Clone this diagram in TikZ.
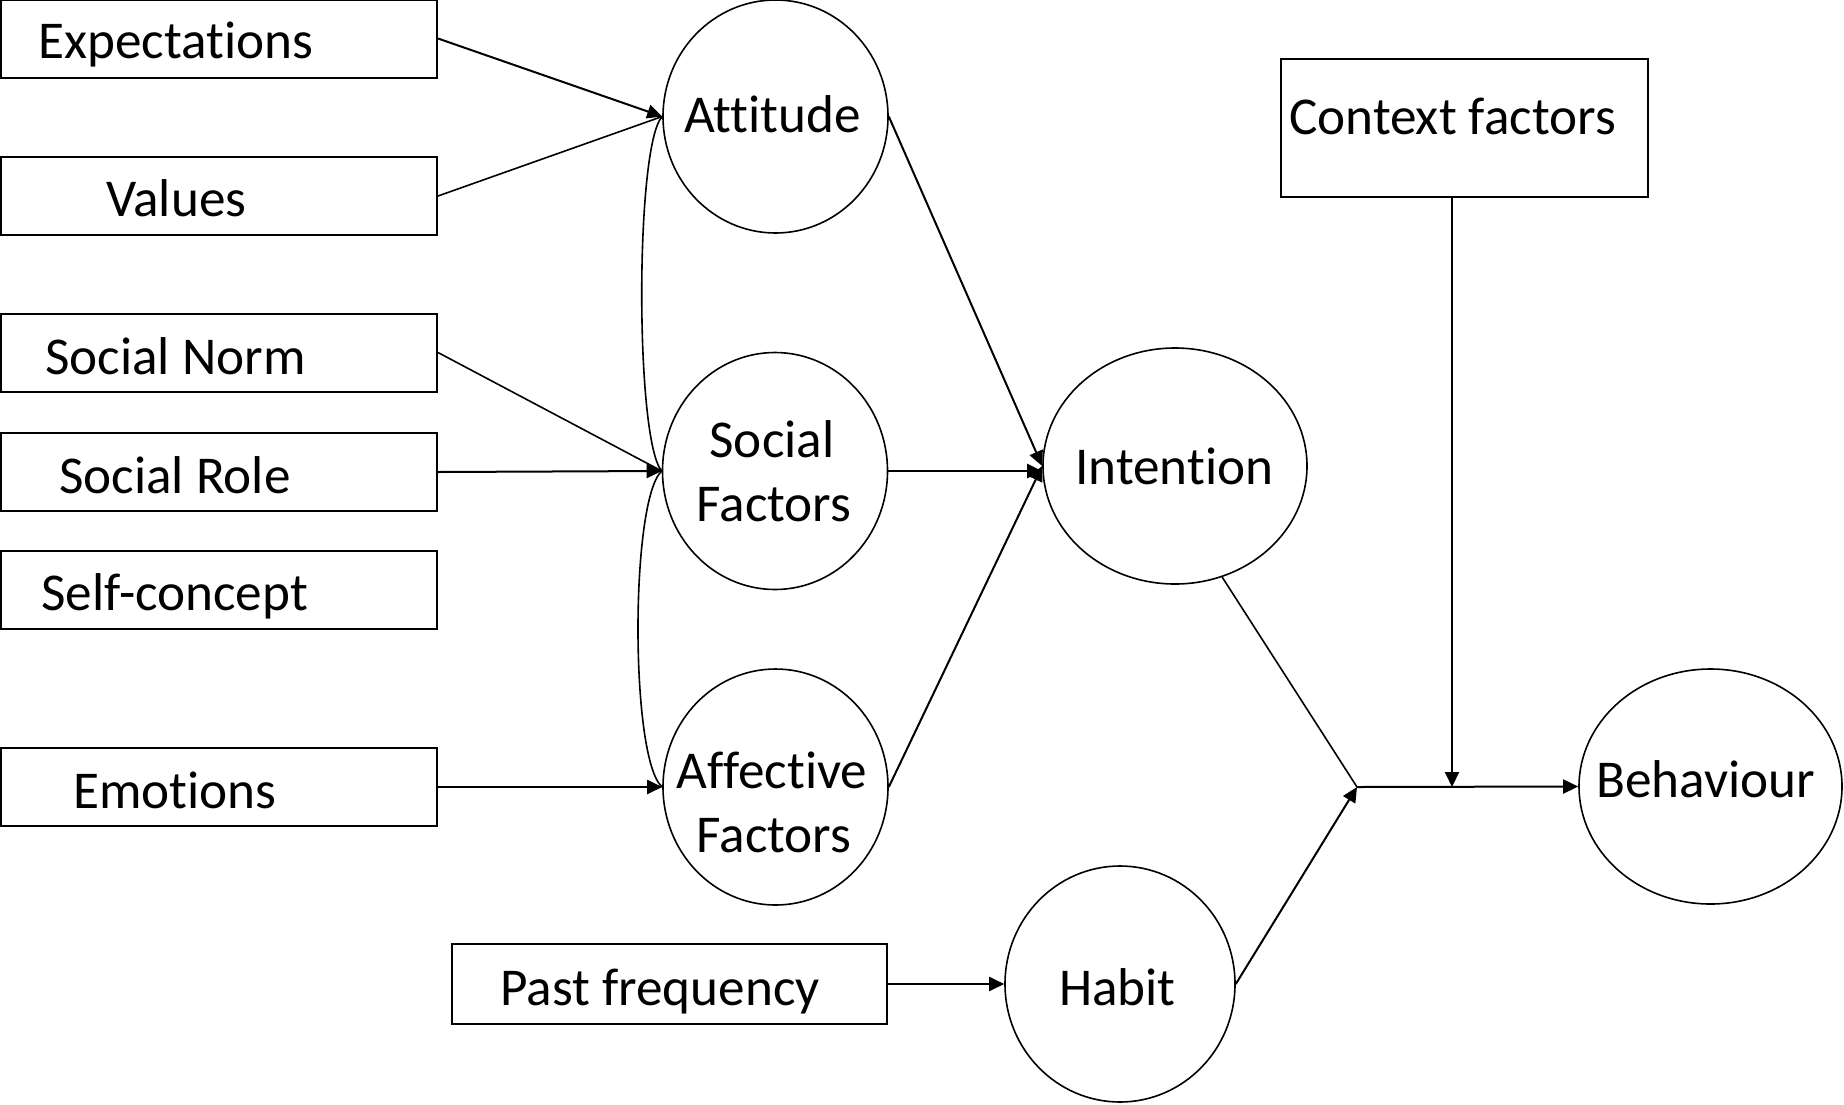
\documentclass[tikz,border=0pt]{standalone}
\usepackage{fontspec}
\setmainfont{Carlito}[Ligatures={NoCommon,NoRequired,NoContextual}]
\usetikzlibrary{arrows.meta,shapes.geometric}
\begin{document}
\begin{tikzpicture}[x=1pt,y=-1pt,
  box/.style={draw,line width=2pt,rectangle,inner sep=0pt,minimum width=436pt,minimum height=78pt},
  oval/.style={draw,line width=1.6pt,ellipse,inner sep=0pt},
  txt/.style={inner sep=0pt,font=\fontsize{53.2}{64}\selectfont},
  ln/.style={line width=1.6pt},
  arr/.style={line width=2pt,-{Triangle[length=15pt,width=14pt]}}
]
\useasboundingbox (0,0) rectangle (1844,1104);

% boxes
\node[box] (exp)  at (219,38.5) {};
\node[box] (val)  at (219,196) {};
\node[box] (norm) at (219,352.5) {};
\node[box] (role) at (219,472) {};
\node[box] (self) at (219,589.5) {};
\node[box] (emo)  at (219,787) {};
\node[box,minimum width=435pt,minimum height=80pt] (past) at (669.5,984) {};
\node[box,minimum width=367pt,minimum height=138pt] (ctx) at (1464.5,128) {};

\node[txt,anchor=base west] (expT)  at (38,58)  {Expectations};
\node[txt,anchor=base west] (valT)  at (106,216) {Values};
\node[txt,anchor=base west] (normT) at (45,374) {Social Norm};
\node[txt,anchor=base west] (roleT) at (59,493) {Social Role};
\node[txt,anchor=base west] (selfT) at (41,610) {Self-concept};
\node[txt,anchor=base west] (emoT)  at (73,808) {Emotions};
\node[txt,anchor=base west] (pastT) at (500,1005) {Past frequency};
\node[txt,anchor=base west] (ctxT)  at (1289,134) {Context factors};

% ellipses
\node[oval,minimum width=225pt,minimum height=233pt] (att) at (775.5,116.5) {};
\node[oval,minimum width=225pt,minimum height=237pt] (soc) at (775,471) {};
\node[oval,minimum width=225pt,minimum height=236pt] (aff) at (775.5,787) {};
\node[oval,minimum width=264pt,minimum height=236pt] (int) at (1175,466) {};
\node[oval,minimum width=230pt,minimum height=236pt] (hab) at (1120,984) {};
\node[oval,minimum width=263pt,minimum height=235pt] (beh) at (1710.5,786.5) {};

\node[txt,anchor=base west] (attT) at (684,132) {Attitude};
\node[txt,anchor=base] (socT1) at (772,457) {Social};
\node[txt,anchor=base] (socT2) at (774,521) {Factors};
\node[txt,anchor=base] (affT1) at (772,788) {Affective};
\node[txt,anchor=base] (affT2) at (774,852) {Factors};
\node[txt,anchor=base west] (intT) at (1075,484) {Intention};
\node[txt,anchor=base west] (habT) at (1059,1005) {Habit};
\node[txt,anchor=base west] (behT) at (1596,797) {Behaviour};

% junctions
\coordinate (J) at (1357,787);
\coordinate (K) at (1452,787);

% connectors left
\draw[arr] (exp.east) -- (att.west);
\draw[ln]  (val.east) -- (att.west);
\draw[ln]  (norm.east) -- (soc.west);
\draw[arr] (role.east) -- (soc.west);
\draw[arr] (emo.east) -- (aff.west);
\draw[ln] (att.west) .. controls (635,145) and (635,440) .. (soc.west);
\draw[ln] (soc.west) .. controls (630,500) and (630,760) .. (aff.west);

% to intention
\draw[arr] (att.east) -- (int.west);
\draw[arr] (soc.east) -- (soc.east -| int.west);
\draw[arr] (aff.east) -- (int.west);

% habit
\draw[arr] (past.east) -- (hab.west);

% behaviour
\draw[ln] (int.-67) -- (J);
\draw[arr] (hab.east) -- (J);
\draw[arr] (J) -- (beh.west);
\draw[arr] (ctx.south -| K) -- (K);
\end{tikzpicture}
\end{document}
